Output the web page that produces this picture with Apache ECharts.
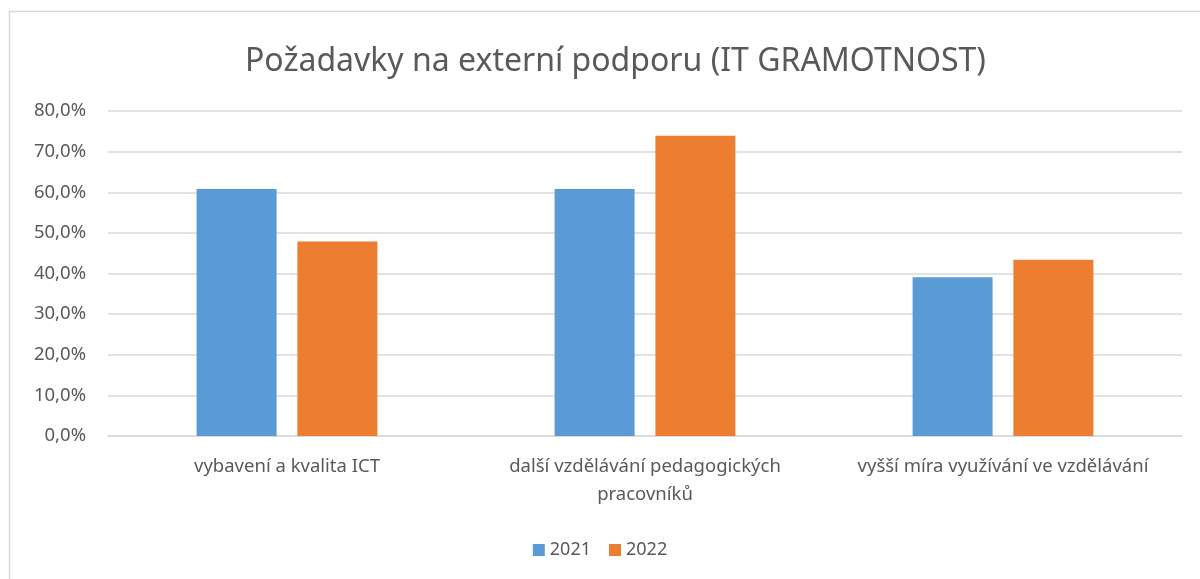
<!DOCTYPE html>
<html>
<head>
<meta charset="utf-8">
<script src="https://cdn.jsdelivr.net/npm/echarts@6/dist/echarts.min.js"></script>
<style>
  html, body { margin: 0; padding: 0; background: #fff; }
  #chart { width: 1200px; height: 579px; }
</style>
</head>
<body>
<div id="chart"></div>
<script>
var categories = ['vybavení a kvalita ICT', 'další vzdělávání pedagogických\npracovníků', 'vyšší míra využívání ve vzdělávání'];
var values2021 = [60.8, 60.8, 39.1];
var values2022 = [47.9, 73.9, 43.4];
var seriesNames = ['2021', '2022'];

var font = '"Noto Sans", sans-serif';
var chart = echarts.init(document.getElementById('chart'));

var option = {
    backgroundColor: '#fff',
    animation: false,
    graphic: [{
        type: 'rect',
        shape: { x: 9.5, y: 11.5, width: 1200, height: 600 },
        style: { fill: 'none', stroke: '#d9d9d9', lineWidth: 1.5 },
        silent: true
    }],
    title: {
        text: 'Požadavky na externí podporu (IT GRAMOTNOST)',
        left: 240,
        top: 41,
        textStyle: { fontFamily: font, fontWeight: 'normal', fontSize: 32, color: '#595959' }
    },
    legend: {
        data: seriesNames,
        bottom: 15,
        left: 'center',
        itemWidth: 12,
        itemHeight: 12,
        itemGap: 18,
        icon: 'rect',
        textStyle: { fontFamily: font, fontSize: 18, color: '#595959' }
    },
    grid: { left: 108, right: 18, top: 111, bottom: 143 },
    xAxis: {
        type: 'category',
        data: categories,
        axisTick: { show: false },
        axisLine: { lineStyle: { color: '#d9d9d9', width: 1.5 } },
        axisLabel: {
            fontFamily: font, fontSize: 18.5, color: '#595959',
            margin: 17, lineHeight: 28, interval: 0
        }
    },
    yAxis: {
        type: 'value',
        min: 0,
        max: 80,
        interval: 10,
        axisLine: { show: false },
        axisTick: { show: false },
        splitLine: { lineStyle: { color: '#d9d9d9', width: 1.5 } },
        axisLabel: {
            fontFamily: font, fontSize: 18.5, color: '#595959', margin: 22,
            formatter: function (v) { return v.toFixed(1).replace('.', ',') + '%'; }
        }
    },
    series: [
        {
            name: seriesNames[0],
            type: 'bar',
            data: values2021,
            barWidth: 80,
            barGap: '26%',
            itemStyle: { color: '#5b9bd5' }
        },
        {
            name: seriesNames[1],
            type: 'bar',
            data: values2022,
            barWidth: 80,
            itemStyle: { color: '#ed7d31' }
        }
    ]
};

chart.setOption(option);
</script>
</body>
</html>
